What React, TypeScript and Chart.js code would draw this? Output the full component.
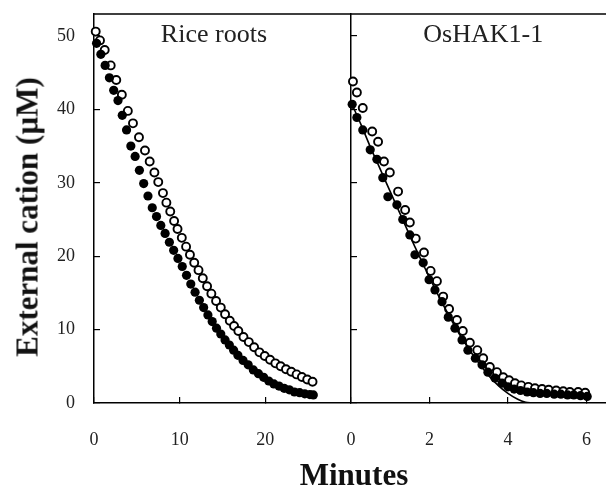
import React, { useEffect, useRef } from "react";
import { Chart, registerables } from "chart.js";

Chart.register(...registerables);

// ---- Data ----
const panelTitles = ["Rice roots", "OsHAK1-1"];
const yAxisTitle = "External cation (µM)";
const xAxisTitle = "Minutes";

const yTicks = [0, 10, 20, 30, 40, 50];
const riceXTicks = [0, 10, 20];
const hakXTicks = [0, 2, 4, 6];

// Rice roots — open circles
const riceOpenT = [0.2, 0.7, 1.25, 1.95, 2.6, 3.25, 3.95, 4.55, 5.25, 5.95, 6.5, 7.05, 7.5, 8.05, 8.45, 8.9, 9.35, 9.75, 10.25, 10.75, 11.2, 11.7, 12.2, 12.7, 13.2, 13.7, 14.25, 14.8, 15.3, 15.85, 16.35, 16.85, 17.45, 18.07, 18.69, 19.31, 19.93, 20.55, 21.17, 21.79, 22.41, 23.03, 23.65, 24.27, 24.89, 25.51];
const riceOpenV = [50.6, 49.4, 48.1, 46.0, 44.0, 42.0, 39.8, 38.1, 36.2, 34.4, 32.9, 31.4, 30.1, 28.6, 27.3, 26.1, 24.8, 23.7, 22.5, 21.3, 20.2, 19.1, 18.1, 17.0, 15.9, 14.9, 13.9, 13.0, 12.1, 11.2, 10.5, 9.8, 9.0, 8.3, 7.6, 6.9, 6.4, 5.9, 5.4, 5.0, 4.6, 4.25, 3.9, 3.55, 3.2, 2.9];

// Rice roots — filled circles
const riceFilledT = [0.3, 0.8, 1.3, 1.8, 2.3, 2.8, 3.3, 3.8, 4.3, 4.8, 5.3, 5.8, 6.3, 6.8, 7.3, 7.8, 8.3, 8.8, 9.3, 9.8, 10.3, 10.8, 11.3, 11.8, 12.3, 12.8, 13.3, 13.8, 14.3, 14.8, 15.3, 15.8, 16.3, 16.8, 17.4, 18.0, 18.6, 19.2, 19.8, 20.4, 21.0, 21.6, 22.2, 22.8, 23.4, 24.0, 24.6, 25.2, 25.6];
const riceFilledV = [49.0, 47.5, 46.0, 44.3, 42.6, 41.2, 39.2, 37.2, 35.0, 33.6, 31.7, 29.9, 28.2, 26.6, 25.4, 24.2, 23.1, 21.9, 20.8, 19.7, 18.6, 17.4, 16.2, 15.1, 14.0, 13.0, 12.0, 11.1, 10.2, 9.4, 8.6, 7.9, 7.2, 6.5, 5.8, 5.2, 4.5, 4.0, 3.5, 3.0, 2.6, 2.3, 2.0, 1.8, 1.5, 1.4, 1.25, 1.15, 1.1];

// OsHAK1-1 — open circles
const hakOpenT = [0.05, 0.15, 0.3, 0.54, 0.69, 0.84, 0.99, 1.2, 1.38, 1.5, 1.65, 1.86, 2.03, 2.19, 2.35, 2.5, 2.7, 2.85, 3.03, 3.22, 3.37, 3.54, 3.72, 3.88, 4.03, 4.18, 4.34, 4.52, 4.69, 4.87, 5.04, 5.23, 5.41, 5.58, 5.79, 5.97];
const hakOpenV = [43.8, 42.3, 40.2, 37.0, 35.6, 32.9, 31.4, 28.8, 26.3, 24.6, 22.4, 20.5, 18.0, 16.6, 14.5, 12.8, 11.3, 9.8, 8.2, 7.2, 6.1, 4.9, 4.2, 3.5, 3.1, 2.7, 2.4, 2.2, 2.0, 1.9, 1.8, 1.7, 1.6, 1.5, 1.5, 1.4];

// OsHAK1-1 — filled circles
const hakFilledT = [0.03, 0.15, 0.3, 0.49, 0.66, 0.81, 0.94, 1.17, 1.32, 1.5, 1.63, 1.84, 1.99, 2.14, 2.32, 2.48, 2.65, 2.83, 2.98, 3.17, 3.34, 3.49, 3.67, 3.85, 4.0, 4.16, 4.32, 4.49, 4.65, 4.82, 4.99, 5.18, 5.35, 5.52, 5.68, 5.85, 6.02];
const hakFilledV = [40.7, 38.9, 37.2, 34.5, 33.2, 30.7, 28.1, 27.0, 25.0, 22.9, 20.2, 19.1, 16.8, 15.4, 13.8, 11.7, 10.2, 8.6, 7.2, 6.1, 5.2, 4.2, 3.4, 2.7, 2.2, 1.9, 1.7, 1.5, 1.4, 1.3, 1.3, 1.2, 1.2, 1.1, 1.1, 1.0, 0.9];

// OsHAK1-1 — fitted curve
const hakFitT = [0, 0.25, 0.5, 0.75, 1, 1.25, 1.5, 1.75, 2, 2.25, 2.5, 2.75, 3, 3.25, 3.5, 3.75, 4, 4.25, 4.45, 4.62];
const hakFitV = [41, 38, 34.8, 31.8, 28.8, 25.8, 22.8, 19.9, 17.1, 14.4, 11.9, 9.5, 7.4, 5.5, 3.8, 2.4, 1.3, 0.5, 0.1, 0];

const zip = (t: number[], v: number[]) => t.map((x, i) => ({ x, y: v[i] }));

const SERIF = '"Liberation Serif", "Times New Roman", serif';

const framePlugin = {
  id: "frame",
  afterDraw(chart: any, _args: any, opts: any) {
    const { ctx, chartArea: a } = chart;
    ctx.save();
    ctx.strokeStyle = "#000";
    ctx.lineWidth = 1.5;
    ctx.beginPath();
    ctx.moveTo(a.left, a.top);
    ctx.lineTo(a.right, a.top);
    if (opts.rightBorder) {
      ctx.moveTo(a.right, a.top);
      ctx.lineTo(a.right, a.bottom);
    }
    ctx.stroke();
    ctx.font = `26px ${SERIF}`;
    ctx.fillStyle = "#222";
    ctx.textAlign = "center";
    ctx.textBaseline = "alphabetic";
    const x = chart.scales.x.getPixelForValue(opts.titleAt);
    ctx.fillText(opts.title, x, a.top + 28);
    ctx.restore();
  },
};

function makeConfig(opts: {
  open: { x: number; y: number }[];
  filled: { x: number; y: number }[];
  fit?: { x: number; y: number }[];
  xMax: number;
  xTicks: number[];
  yWidth: number;
  showYLabels: boolean;
  title: string;
  titleAt: number;
  rightBorder: boolean;
}) {
  const datasets: any[] = [
    {
      label: "filled",
      data: opts.filled,
      showLine: false,
      pointRadius: 4.6,
      pointBorderWidth: 0,
      pointBackgroundColor: "#000",
      pointBorderColor: "#000",
      clip: false,
    },
  ];
  if (opts.fit) {
    datasets.push({
      label: "fit",
      data: opts.fit,
      showLine: true,
      pointRadius: 0,
      borderColor: "#000",
      borderWidth: 1.6,
      tension: 0.3,
      fill: false,
    });
  }
  datasets.push({
    label: "open",
    data: opts.open,
    showLine: false,
    pointRadius: 4.0,
    pointBorderWidth: 1.9,
    pointBackgroundColor: "#fff",
    pointBorderColor: "#000",
    clip: false,
  });

  return {
    type: "scatter",
    data: { datasets },
    options: {
      animation: false,
      responsive: false,
      maintainAspectRatio: false,
      events: [],
      layout: { autoPadding: false, padding: { top: 14, right: 0, left: 0, bottom: 0 } },
      plugins: {
        legend: { display: false },
        tooltip: { enabled: false },
        title: { display: false },
        frame: { title: opts.title, titleAt: opts.titleAt, rightBorder: opts.rightBorder },
      },
      scales: {
        x: {
          type: "linear",
          min: 0,
          max: opts.xMax,
          afterBuildTicks: (s: any) => {
            s.ticks = opts.xTicks.map((value) => ({ value }));
          },
          afterFit: (s: any) => {
            s.height = 83;
            s.paddingLeft = 0;
            s.paddingRight = 0;
          },
          grid: { drawOnChartArea: false, drawTicks: true, tickLength: -6, color: "#000", lineWidth: 1.2 },
          border: { display: true, color: "#000", width: 1.5 },
          ticks: {
            padding: 32,
            color: "#222",
            font: { family: SERIF, size: 18 },
            maxRotation: 0,
            autoSkip: false,
            callback: (v: any) => String(v),
          },
        },
        y: {
          type: "linear",
          min: 0,
          max: 53,
          afterBuildTicks: (s: any) => {
            s.ticks = yTicks.map((value) => ({ value }));
          },
          afterFit: (s: any) => {
            s.width = opts.yWidth;
            s.paddingTop = 0;
            s.paddingBottom = 0;
          },
          grid: { drawOnChartArea: false, drawTicks: true, tickLength: -6, color: "#000", lineWidth: 1.2 },
          border: { display: true, color: "#000", width: 1.5 },
          ticks: {
            display: true,
            padding: 25,
            color: opts.showYLabels ? "#222" : "rgba(0,0,0,0)",
            font: { family: SERIF, size: 18 },
            autoSkip: false,
            callback: (v: any) => String(v),
          },
        },
      },
    },
    plugins: [framePlugin],
  } as any;
}

export default function App() {
  const leftRef = useRef<HTMLCanvasElement>(null);
  const rightRef = useRef<HTMLCanvasElement>(null);

  useEffect(() => {
    const left = new Chart(
      leftRef.current as HTMLCanvasElement,
      makeConfig({
        open: zip(riceOpenT, riceOpenV),
        filled: zip(riceFilledT, riceFilledV),
        xMax: 30,
        xTicks: riceXTicks,
        yWidth: 94,
        showYLabels: true,
        title: panelTitles[0],
        titleAt: 14,
        rightBorder: true,
      })
    );
    const right = new Chart(
      rightRef.current as HTMLCanvasElement,
      makeConfig({
        open: zip(hakOpenT, hakOpenV),
        filled: zip(hakFilledT, hakFilledV),
        fit: zip(hakFitT, hakFitV),
        xMax: 6.5,
        xTicks: hakXTicks,
        yWidth: 51,
        showYLabels: false,
        title: panelTitles[1],
        titleAt: 3.37,
        rightBorder: false,
      })
    );
    return () => {
      left.destroy();
      right.destroy();
    };
  }, []);

  const textStyle: React.CSSProperties = {
    position: "absolute",
    fontFamily: SERIF,
    fontWeight: "bold",
    fontSize: 31,
    lineHeight: "31px",
    color: "#111",
    whiteSpace: "nowrap",
  };

  return (
    <div style={{ position: "absolute", left: 0, top: 0, width: 606, height: 486, background: "#fff", overflow: "hidden" }}>
      <canvas ref={leftRef} width={351} height={486} style={{ position: "absolute", left: 0, top: 0, width: 351, height: 486 }} />
      <canvas ref={rightRef} width={306} height={486} style={{ position: "absolute", left: 300, top: 0, width: 306, height: 486 }} />
      <div style={{ ...textStyle, left: 27, top: 217, transform: "translate(-50%, -50%) rotate(-90deg)" }}>{yAxisTitle}</div>
      <div style={{ ...textStyle, left: 354, top: 474, transform: "translate(-50%, -50%)" }}>{xAxisTitle}</div>
    </div>
  );
}
